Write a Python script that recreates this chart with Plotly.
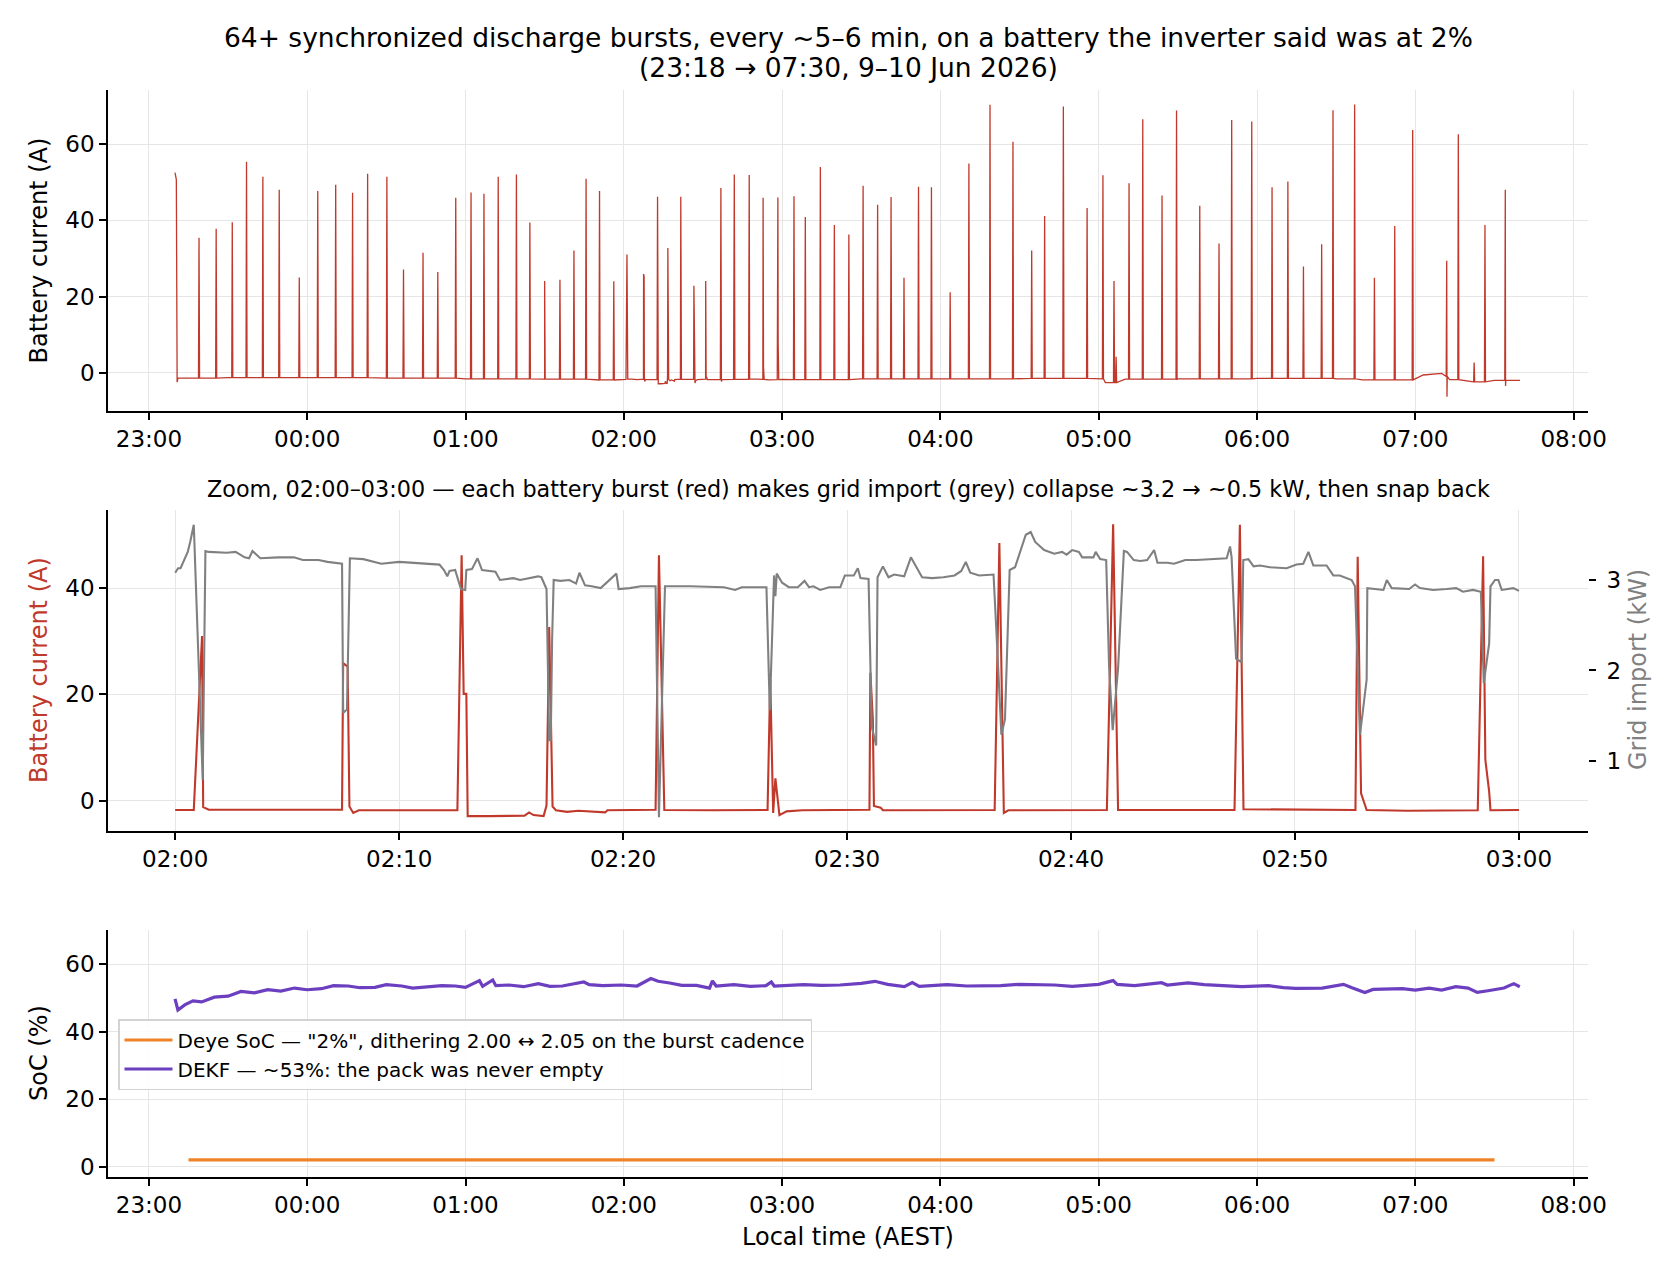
import datetime as dt
import plotly.graph_objects as go

# ---------------- data ----------------
# Top panel: discharge bursts (clock time, peak battery current A)
burst_clock = ["23:19:00", "23:25:30", "23:31:36", "23:37:00", "23:43:12", "23:49:24", "23:57:00",
               "00:04:00", "00:10:48", "00:17:12", "00:22:54", "00:30:12", "00:36:30", "00:43:54",
               "00:49:30", "00:56:18", "01:02:06", "01:07:00", "01:12:24", "01:19:18", "01:24:24",
               "01:30:00", "01:35:48", "01:41:06", "01:45:42", "01:50:48", "01:56:12",
               "03:04:30", "03:08:48", "03:14:30", "03:19:48", "03:25:18", "03:30:42", "03:36:12",
               "03:41:18", "03:46:12", "03:51:42", "03:56:36", "04:03:42", "04:10:48", "04:18:48",
               "04:27:30", "04:34:36", "04:39:30", "04:46:36", "04:55:36", "05:01:36", "05:05:48",
               "05:06:36", "05:11:30", "05:16:42", "05:24:00", "05:29:30", "05:38:18", "05:45:36",
               "05:50:24", "05:58:00", "06:05:42", "06:11:42", "06:17:36", "06:24:30", "06:28:48",
               "06:37:00", "06:44:30", "06:52:12", "06:59:00", "07:11:54", "07:16:18", "07:22:18",
               "07:26:24", "07:34:06"]
burst_peak = [35.4, 37.8, 39.5, 55.4, 51.4, 48.0, 25.0,
              47.7, 49.3, 47.2, 52.2, 51.4, 27.1, 31.5,
              26.4, 45.9, 47.3, 47.0, 51.4, 52.0, 39.4,
              24.1, 24.4, 32.1, 50.9, 47.7, 24.0,
              46.3, 40.9, 54.0, 38.8, 36.3, 49.1, 44.1,
              46.1, 24.9, 48.8, 48.7, 21.1, 54.9, 70.3,
              60.6, 32.1, 41.1, 69.9, 43.2, 51.8, 24.1,
              4.2, 49.7, 66.5, 46.5, 68.8, 43.8, 33.9,
              66.3, 65.9, 48.7, 50.2, 27.9, 33.7, 68.9,
              70.4, 24.9, 38.5, 63.7, 29.4, 62.6, 2.7,
              38.8, 48.0]

# Top panel: idle (between-burst) battery current level
base_clock = ["23:09:54", "23:10:24", "23:10:42", "23:11:00", "23:30:00", "00:00:00", "00:30:00",
              "01:00:00", "01:30:00", "01:50:00", "01:59:00", "03:01:00", "03:30:00", "04:00:00",
              "04:30:00", "05:00:00", "05:02:30", "05:10:00", "05:30:00", "06:00:00", "06:30:00",
              "06:40:00", "07:00:00", "07:03:00", "07:10:00", "07:11:30", "07:13:00", "07:22:00",
              "07:30:00", "07:39:42"]
base_value = [52.5, 50.7, -2.5, -1.4, -1.3, -1.3, -1.4,
              -1.6, -1.7, -1.9, -1.8, -1.8, -1.6, -1.6,
              -1.5, -1.6, -2.6, -1.7, -1.6, -1.5, -1.6,
              -1.9, -1.6, -0.6, -0.2, -1.0, -1.8, -2.4,
              -2.0, -2.0]

# Top panel: short undershoots right after a burst
dip_clock = ["07:12:00", "07:34:12"]
dip_value = [-6.3, -3.5]

# Middle panel (02:00-03:00): minutes after 02:00
zoom_bat_min = [0.0, 0.83, 1.2, 1.25, 1.5, 3.0, 5.0, 7.45, 7.5, 7.7, 7.78, 7.95, 8.2, 10.0,
                12.6, 12.79, 12.88, 13.0, 13.06, 14.0, 15.6, 15.8, 16.0, 16.45, 16.58, 16.7,
                16.78, 16.85, 17.0, 17.5, 18.0, 19.2, 19.3, 21.45, 21.6, 21.84, 24.0, 26.45,
                26.57, 26.7, 26.8, 26.98, 27.3, 28.0, 31.0, 31.04, 31.15, 31.2, 31.5, 31.6,
                36.59, 36.8, 37.0, 37.2, 41.6, 41.88, 42.1, 47.3, 47.54, 47.7, 52.7, 52.8,
                52.95, 53.2, 55.0, 58.16, 58.4, 58.5, 58.67, 58.73, 60.0]
zoom_bat_amp = [-1.75, -1.75, 31.0, -1.2, -1.7, -1.7, -1.8, -1.7, 25.9, 25.2, -1.1, -2.3, -1.8, -1.75,
                -1.8, 46.2, 20.1, 20.1, -2.9, -2.9, -2.8, -2.2, -2.7, -2.9, -0.9, 32.7,
                11.0, -1.1, -1.8, -2.1, -1.9, -2.2, -1.8, -1.7, 46.2, -1.75, -1.8, -1.75,
                22.8, -2.3, 4.2, -2.7, -2.0, -1.8, -1.7, 24.1, 15.4, -1.0, -1.3, -1.8,
                -1.75, 48.5, -2.3, -1.8, -1.75, 52.0, -1.75, -1.75, 51.9, -1.6, -1.75, 45.9,
                1.4, -1.75, -1.9, -1.8, 46.0, 7.7, 1.7, -1.8, -1.75]

zoom_grid_min = [0.0, 0.13, 0.24, 0.56, 0.67, 0.83, 1.23, 1.35, 1.5, 2.3, 2.7, 3.1, 3.3, 3.45, 3.8,
                 4.6, 5.3, 5.7, 6.4, 6.8, 7.45, 7.5, 7.67, 7.8, 8.4, 9.2, 10.0, 11.8, 12.0,
                 12.15, 12.25, 12.5, 12.76, 12.95, 13.0, 13.25, 13.5, 13.7, 14.3, 14.5, 15.1,
                 15.4, 16.2, 16.35, 16.58, 16.7, 16.77, 16.83, 16.9, 17.2, 17.6, 17.9, 18.05,
                 18.3, 18.6, 19.0, 19.7, 19.8, 20.3, 20.8, 21.45, 21.6, 21.87, 23.0, 24.5,
                 25.0, 25.3, 26.4, 26.55, 26.74, 26.8, 26.86, 27.1, 27.4, 27.8, 28.1, 28.3,
                 28.5, 28.8, 29.2, 29.7, 29.9, 30.3, 30.48, 30.6, 30.96, 31.1, 31.3, 31.36,
                 31.6, 31.85, 32.1, 32.55, 32.85, 33.1, 33.35, 33.8, 34.3, 34.8, 35.1, 35.3,
                 35.5, 35.9, 36.54, 36.7, 36.89, 37.05, 37.26, 37.5, 37.7, 37.98, 38.2, 38.4,
                 38.8, 39.25, 39.6, 39.8, 40.05, 40.35, 40.5, 41.0, 41.1, 41.3, 41.57, 41.7,
                 41.86, 42.1, 42.36, 42.5, 42.8, 43.1, 43.4, 43.71, 43.86, 44.3, 44.6, 45.1,
                 45.6, 46.35, 46.95, 47.1, 47.17, 47.37, 47.62, 47.69, 47.92, 48.15, 48.44,
                 48.88, 49.33, 49.63, 50.07, 50.37, 50.6, 50.82, 51.41, 51.56, 51.71, 52.0,
                 52.3, 52.53, 52.68, 52.9, 53.02, 53.2, 53.23, 53.8, 53.95, 54.1, 54.32, 55.1,
                 55.36, 55.58, 56.17, 56.77, 57.2, 57.5, 57.95, 58.3, 58.43, 58.67, 58.73,
                 58.93, 59.08, 59.23, 59.45, 59.75, 60.0]
zoom_grid_kw = [3.08, 3.13, 3.13, 3.31, 3.42, 3.61, 0.79, 3.32, 3.31, 3.30, 3.31, 3.25, 3.24, 3.32, 3.24,
                3.25, 3.25, 3.22, 3.22, 3.20, 3.18, 1.53, 1.57, 3.24, 3.23, 3.18, 3.20, 3.17, 3.11,
                3.04, 3.10, 3.11, 2.90, 2.89, 3.11, 3.12, 3.24, 3.11, 3.09, 3.00, 3.02,
                3.00, 3.04, 3.03, 2.90, 1.23, 1.23, 2.34, 3.00, 2.99, 3.00, 2.96, 3.08,
                2.94, 2.93, 2.91, 3.07, 2.90, 2.91, 2.93, 2.93, 0.38, 2.93, 2.93, 2.92,
                2.89, 2.92, 2.92, 1.56, 3.05, 2.82, 3.07, 2.97, 2.92, 2.92, 2.99, 2.92,
                2.93, 2.89, 2.92, 2.92, 3.05, 3.05, 3.13, 3.02, 3.01, 1.38, 1.17, 3.03,
                3.15, 3.03, 3.06, 3.04, 3.25, 3.14, 3.03, 3.02, 3.03, 3.05, 3.10, 3.20,
                3.08, 3.05, 3.06, 2.27, 1.29, 1.46, 3.11, 3.14, 3.28, 3.50, 3.53, 3.42,
                3.33, 3.29, 3.31, 3.28, 3.33, 3.31, 3.25, 3.25, 3.31, 3.23, 3.22, 2.04,
                1.34, 2.02, 3.32, 3.31, 3.22, 3.21, 3.22, 3.33, 3.19, 3.19, 3.18, 3.22,
                3.22, 3.23, 3.24, 3.37, 3.25, 2.13, 2.09, 3.22, 3.23, 3.15, 3.16,
                3.14, 3.13, 3.13, 3.17, 3.18, 3.31, 3.16, 3.16, 3.10, 3.05, 3.05,
                3.02, 3.00, 2.93, 1.29, 1.53, 1.90, 2.91, 2.90, 2.89, 3.00, 2.91, 2.90,
                2.95, 2.91, 2.89, 2.90, 2.91, 2.87, 2.89, 2.87, 1.86, 2.30, 2.93,
                3.00, 3.00, 2.89, 2.90, 2.91, 2.88]

# Bottom panel: SoC estimates
deye_clock = ["23:15:00", "07:30:00"]
deye_soc = [2.0, 2.0]
dekf_clock = ["23:09:54", "23:11:00", "23:13:36", "23:16:40", "23:20:00", "23:24:47", "23:30:00",
              "23:34:55", "23:40:00", "23:45:04", "23:50:00", "23:55:12", "00:00:00", "00:05:24",
              "00:10:00", "00:15:32", "00:20:00", "00:25:41", "00:30:00", "00:35:49", "00:40:00",
              "00:46:01", "00:51:00", "00:56:10", "01:00:00", "01:05:17", "01:06:30", "01:10:20",
              "01:11:30", "01:16:26", "01:22:00", "01:27:36", "01:32:00", "01:36:43", "01:44:50",
              "01:46:55", "01:52:00", "01:59:06", "02:05:00", "02:10:15", "02:13:00", "02:17:24",
              "02:22:00", "02:27:32", "02:32:30", "02:33:36", "02:35:00", "02:41:42", "02:48:00",
              "02:53:53", "02:55:55", "02:57:00", "03:08:06", "03:15:00", "03:21:54", "03:30:00",
              "03:35:10", "03:40:00", "03:46:19", "03:49:20", "03:52:00", "04:02:35", "04:10:00",
              "04:22:52", "04:30:00", "04:43:12", "04:50:00", "05:00:00", "05:05:28", "05:07:00",
              "05:13:37", "05:23:49", "05:26:00", "05:33:54", "05:40:00", "05:54:14", "06:04:23",
              "06:10:00", "06:14:31", "06:24:40", "06:32:46", "06:36:00", "06:40:52", "06:44:00",
              "06:55:05", "07:00:00", "07:05:13", "07:10:00", "07:15:22", "07:20:00", "07:23:28",
              "07:27:32", "07:33:36", "07:37:19", "07:39:36"]
dekf_soc = [49.7, 46.4, 47.9, 49.1, 48.8, 50.2, 50.5,
            51.9, 51.5, 52.4, 52.0, 52.9, 52.4, 52.7,
            53.6, 53.5, 53.0, 53.1, 53.9, 53.5, 52.9,
            53.3, 53.6, 53.5, 53.1, 55.1, 53.4, 55.3,
            53.6, 53.8, 53.3, 54.2, 53.4, 53.5, 54.7,
            53.9, 53.6, 53.8, 53.5, 55.7, 54.9, 54.4,
            53.7, 53.7, 52.9, 55.0, 53.5, 53.9, 53.4,
            53.6, 54.7, 53.5, 53.9, 53.7, 53.8, 54.3,
            54.9, 54.0, 53.3, 54.5, 53.4, 53.9, 53.5,
            53.6, 54.0, 53.8, 53.4, 54.0, 55.1, 54.0,
            53.6, 54.5, 53.8, 54.4, 53.9, 53.3, 53.6,
            53.0, 52.8, 52.9, 54.0, 53.0, 51.6, 52.5,
            52.7, 52.3, 52.9, 52.3, 53.3, 52.9, 51.6,
            52.1, 52.9, 54.2, 53.3]

hour_ticks = ["23:00", "00:00", "01:00", "02:00", "03:00", "04:00", "05:00", "06:00", "07:00", "08:00"]
zoom_ticks = ["02:00", "02:10", "02:20", "02:30", "02:40", "02:50", "03:00"]


# ---------------- helpers ----------------
def ts(clock):
    parts = [int(p) for p in clock.split(":")]
    while len(parts) < 3:
        parts.append(0)
    h, m, s = parts
    day = 9 if h >= 12 else 10
    return dt.datetime(2026, 6, day, h, m, s)


zoom_start = ts("02:00:00")
zoom_end = ts("03:00:00")

knots = sorted(zip([ts(c) for c in base_clock], base_value))


def base_at(t):
    v = knots[0][1]
    for kt, kv in knots:
        if kt <= t:
            v = kv
        else:
            break
    return v


pts = list(knots)
half = dt.timedelta(seconds=12)
for c, p in zip(burst_clock, burst_peak):
    t = ts(c)
    b = base_at(t)
    pts += [(t - half, b), (t, p), (t + half, b)]
pts += [(ts(c), v) for c, v in zip(dip_clock, dip_value)]
pts = [q for q in pts if not (zoom_start <= q[0] <= zoom_end)]
zoom_bat_x = [zoom_start + dt.timedelta(minutes=m) for m in zoom_bat_min]
zoom_grid_x = [zoom_start + dt.timedelta(minutes=m) for m in zoom_grid_min]
pts += list(zip(zoom_bat_x, zoom_bat_amp))
pts.sort(key=lambda q: q[0])
top_x = [q[0] for q in pts]
top_y = [q[1] for q in pts]

# ---------------- styling ----------------
W, H = 1680, 1280
FONT = "DejaVu Sans"
RED = "#c0392b"
GREY = "#808080"
ORANGE = "#ee8427"
PURPLE = "#6b3fbf"
GRID = "#e6e6e6"
TICKFONT = dict(family=FONT, size=23, color="#000000")


def px_x(x):
    return x / W


def px_y(y):
    return 1 - y / H


XDOM = [px_x(108), px_x(1588)]

axis_common = dict(showline=True, linecolor="#000000", linewidth=1.6, ticks="outside",
                   ticklen=7, tickwidth=1.6, tickcolor="#000000", showgrid=True,
                   gridcolor=GRID, gridwidth=1.4, zeroline=False, tickfont=TICKFONT,
                   mirror=False, automargin=False)

fig = go.Figure()

fig.add_trace(go.Scatter(x=top_x, y=top_y, mode="lines", xaxis="x", yaxis="y",
                         line=dict(color=RED, width=1.3), showlegend=False))
fig.add_trace(go.Scatter(x=zoom_bat_x, y=zoom_bat_amp, mode="lines", xaxis="x2", yaxis="y2",
                         line=dict(color=RED, width=2.1), showlegend=False))
fig.add_trace(go.Scatter(x=zoom_grid_x, y=zoom_grid_kw, mode="lines", xaxis="x2", yaxis="y3",
                         line=dict(color=GREY, width=2.1), showlegend=False))
fig.add_trace(go.Scatter(x=[ts(c) for c in deye_clock], y=deye_soc, mode="lines",
                         xaxis="x3", yaxis="y4", line=dict(color=ORANGE, width=3.2),
                         name='Deye SoC — "2%", dithering 2.00 ↔ 2.05 on the burst cadence'))
fig.add_trace(go.Scatter(x=[ts(c) for c in dekf_clock], y=dekf_soc, mode="lines",
                         xaxis="x3", yaxis="y4", line=dict(color=PURPLE, width=3.2),
                         name="DEKF — ~53%: the pack was never empty"))

full_range = [dt.datetime(2026, 6, 9, 22, 44, 30), dt.datetime(2026, 6, 10, 8, 5, 27)]
hour_vals = [ts(c) for c in hour_ticks]
zoom_vals = [ts(c) for c in zoom_ticks]

fig.update_layout(
    width=W, height=H, autosize=False,
    margin=dict(l=0, r=0, t=0, b=0, pad=0, autoexpand=False),
    paper_bgcolor="white", plot_bgcolor="white",
    font=dict(family=FONT, size=22, color="#000000"),
    xaxis=dict(axis_common, domain=XDOM, anchor="y", type="date", range=full_range,
               tickvals=hour_vals, ticktext=hour_ticks),
    yaxis=dict(axis_common, domain=[px_y(411), px_y(90)], anchor="x",
               range=[-10.05, 74.2], tickvals=[0, 20, 40, 60]),
    xaxis2=dict(axis_common, domain=XDOM, anchor="y2", type="date",
                range=[dt.datetime(2026, 6, 10, 1, 57, 0), dt.datetime(2026, 6, 10, 3, 3, 5)],
                tickvals=zoom_vals, ticktext=zoom_ticks),
    yaxis2=dict(axis_common, domain=[px_y(830.7), px_y(510)], anchor="x2",
                range=[-5.64, 54.7], tickvals=[0, 20, 40]),
    yaxis3=dict(overlaying="y2", anchor="x2", side="right", range=[0.23, 3.773],
                tickvals=[1, 2, 3], showgrid=False, showline=False, zeroline=False,
                ticks="outside", ticklen=7, tickwidth=1.6, tickcolor="#000000",
                tickfont=TICKFONT, ticklabelstandoff=6, automargin=False),
    xaxis3=dict(axis_common, domain=XDOM, anchor="y4", type="date", range=full_range,
                tickvals=hour_vals, ticktext=hour_ticks),
    yaxis4=dict(axis_common, domain=[px_y(1176.7), px_y(930)], anchor="x3",
                range=[-3.0, 70.1], tickvals=[0, 20, 40, 60]),
    showlegend=True,
    legend=dict(x=px_x(118), y=px_y(1019), xanchor="left", yanchor="top",
                bgcolor="rgba(255,255,255,0.85)", bordercolor="#d3d3d3", borderwidth=1.5,
                font=dict(family=FONT, size=20, color="#000000"), itemwidth=48,
                tracegroupgap=0),
)

annotations = [
    dict(text="64+ synchronized discharge bursts, every ~5–6 min, on a battery the inverter said was at 2%",
         x=px_x(848), y=px_y(38.0), font=dict(size=26.5)),
    dict(text="(23:18 → 07:30, 9–10 Jun 2026)", x=px_x(848), y=px_y(68.0), font=dict(size=26.5)),
    dict(text="Zoom, 02:00–03:00 — each battery burst (red) makes grid import (grey) collapse ~3.2 → ~0.5 kW, then snap back",
         x=px_x(848), y=px_y(489), font=dict(size=22.3)),
    dict(text="Battery current (A)", x=px_x(39), y=px_y(250.5), textangle=-90, font=dict(size=24)),
    dict(text="Battery current (A)", x=px_x(39), y=px_y(670), textangle=-90,
         font=dict(size=24, color=RED)),
    dict(text="Grid import (kW)", x=px_x(1638), y=px_y(670), textangle=-90,
         font=dict(size=24, color=GREY)),
    dict(text="SoC (%)", x=px_x(39), y=px_y(1053), textangle=-90, font=dict(size=24)),
    dict(text="Local time (AEST)", x=px_x(848), y=px_y(1237), font=dict(size=24)),
]
for a in annotations:
    a.update(xref="paper", yref="paper", xanchor="center", yanchor="middle", showarrow=False)
    a["font"] = dict(dict(family=FONT, color="#000000"), **a["font"])
fig.update_layout(annotations=annotations)

fig.write_html("out.html")
